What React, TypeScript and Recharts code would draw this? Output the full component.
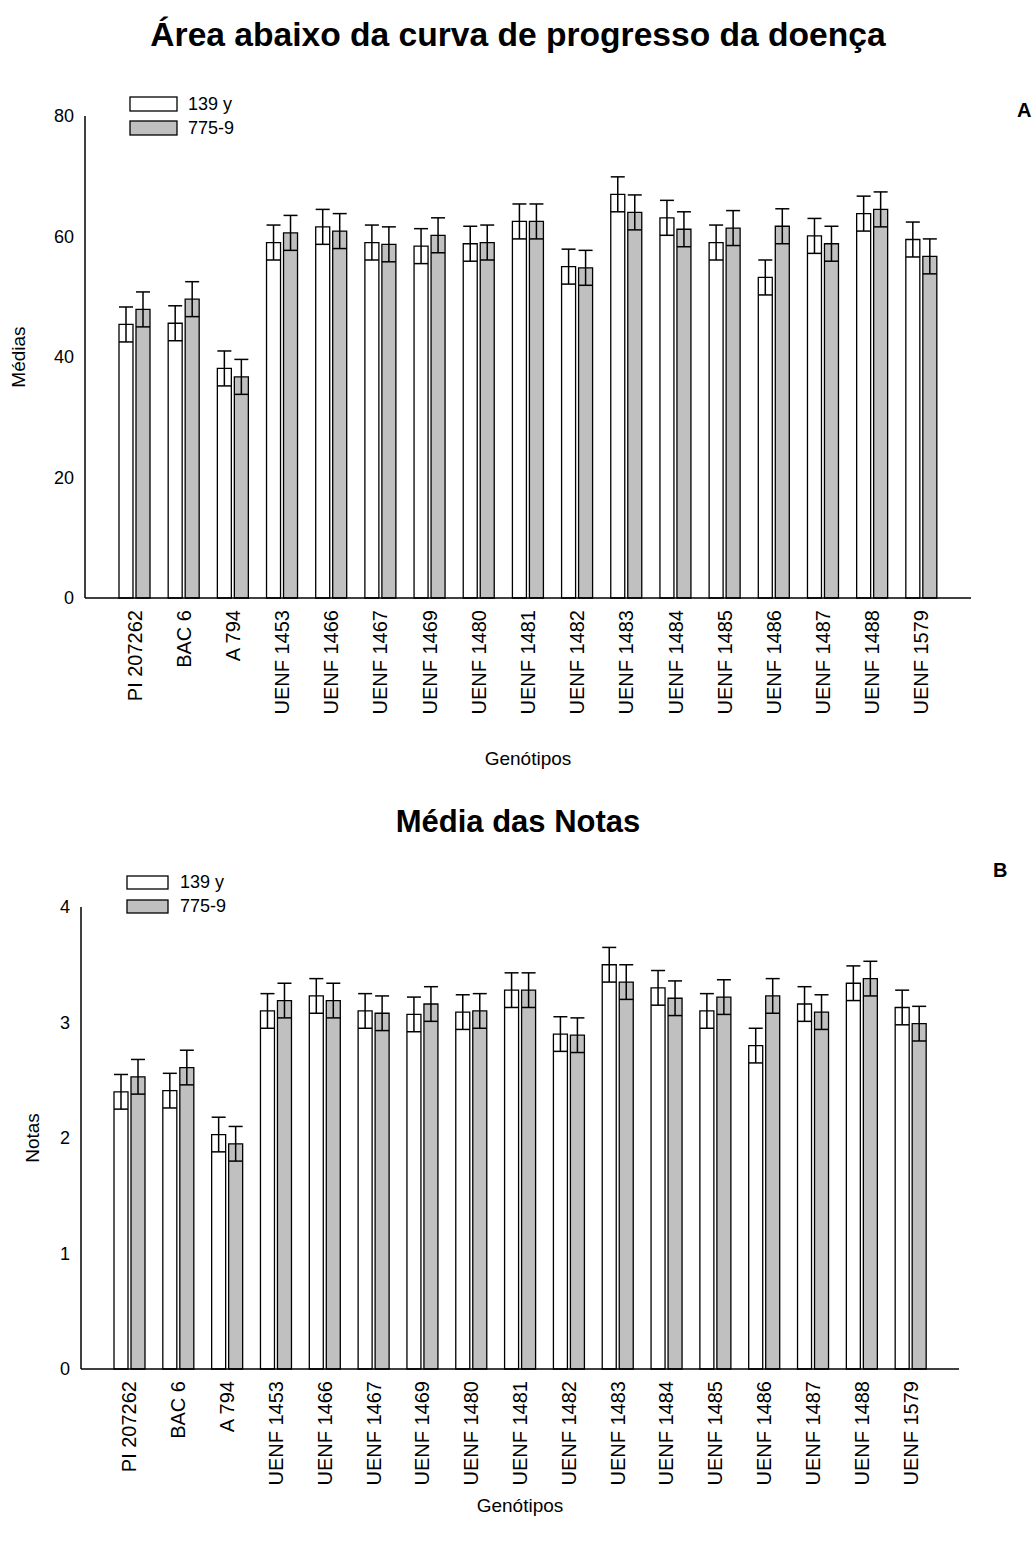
import React from 'react';
import { BarChart, Bar, XAxis, YAxis, ErrorBar, Legend, Label } from 'recharts';

// Genotypes evaluated against the two isolates
const genotypes = [
  'PI 207262', 'BAC 6', 'A 794', 'UENF 1453', 'UENF 1466', 'UENF 1467', 'UENF 1469',
  'UENF 1480', 'UENF 1481', 'UENF 1482', 'UENF 1483', 'UENF 1484', 'UENF 1485',
  'UENF 1486', 'UENF 1487', 'UENF 1488', 'UENF 1579',
];

// Panel A: area under the disease progress curve (means)
const audpc139 = [45.4, 45.6, 38.1, 59.0, 61.6, 59.0, 58.4, 58.8, 62.5, 55.0, 67.0, 63.1, 59.0, 53.2, 60.1, 63.8, 59.5];
const audpc775 = [47.9, 49.6, 36.7, 60.6, 60.9, 58.7, 60.2, 59.0, 62.5, 54.8, 64.0, 61.2, 61.4, 61.7, 58.8, 64.5, 56.7];
const audpcErr139 = [2.9, 2.9, 2.9, 2.9, 2.9, 2.9, 2.9, 2.9, 2.9, 2.9, 2.9, 2.9, 2.9, 2.9, 2.9, 2.9, 2.9];
const audpcErr775 = [2.9, 2.9, 2.9, 2.9, 2.9, 2.9, 2.9, 2.9, 2.9, 2.9, 2.9, 2.9, 2.9, 2.9, 2.9, 2.9, 2.9];
const audpcTicks = [0, 20, 40, 60, 80];

// Panel B: mean disease scores
const notas139 = [2.40, 2.41, 2.03, 3.10, 3.23, 3.10, 3.07, 3.09, 3.28, 2.90, 3.50, 3.30, 3.10, 2.80, 3.16, 3.34, 3.13];
const notas775 = [2.53, 2.61, 1.95, 3.19, 3.19, 3.08, 3.16, 3.10, 3.28, 2.89, 3.35, 3.21, 3.22, 3.23, 3.09, 3.38, 2.99];
const notasErr139 = [0.15, 0.15, 0.15, 0.15, 0.15, 0.15, 0.15, 0.15, 0.15, 0.15, 0.15, 0.15, 0.15, 0.15, 0.15, 0.15, 0.15];
const notasErr775 = [0.15, 0.15, 0.15, 0.15, 0.15, 0.15, 0.15, 0.15, 0.15, 0.15, 0.15, 0.15, 0.15, 0.15, 0.15, 0.15, 0.15];
const notasTicks = [0, 1, 2, 3, 4];

const seriesNames = ['139 y', '775-9'];

const FONT = '"Liberation Sans", Arial, sans-serif';

const buildRows = (a: number[], b: number[], ea: number[], eb: number[]) =>
  genotypes.map((g, i) => ({ genotype: g, s1: a[i], s2: b[i], e1: ea[i], e2: eb[i] }));

const audpcData = buildRows(audpc139, audpc775, audpcErr139, audpcErr775);
const notasData = buildRows(notas139, notas775, notasErr139, notasErr775);

const RotatedTick = (props: any) => {
  const { x, y, payload } = props;
  const ty = y + 4;
  return (
    <text
      x={x}
      y={ty}
      transform={`rotate(-90 ${x} ${ty})`}
      textAnchor="end"
      dominantBaseline="central"
      fontSize={20}
      fontFamily={FONT}
      fill="#000"
    >
      {payload.value}
    </text>
  );
};

const makeLegend = (swW: number, swH: number, gap: number) => (props: any) => {
  const items = props.payload || [];
  return (
    <div style={{ fontFamily: FONT, fontSize: 18, color: '#000' }}>
      {items.map((it: any) => (
        <div key={it.value} style={{ display: 'flex', alignItems: 'center', height: 24 }}>
          <svg width={swW + 2} height={swH + 2} style={{ display: 'block' }}>
            <rect x={1} y={1} width={swW} height={swH} fill={it.color} stroke="#000" strokeWidth={1.3} />
          </svg>
          <span style={{ marginLeft: gap, lineHeight: '24px' }}>{it.value}</span>
        </div>
      ))}
    </div>
  );
};

interface PanelProps {
  data: any[];
  top: number;
  height: number;
  plotTop: number;
  plotBottom: number;
  rightMargin: number;
  yWidth: number;
  domain: [number, number];
  ticks: number[];
  yTitle: string;
  yTitleDx: number;
  xTitleDy: number;
  xPad: number;
  legendPos: { left: number; top: number };
  swatch: [number, number, number];
  title: string;
  titleTop: number;
  titleSize: number;
  tag: string;
  tagPos: { left: number; top: number };
}

const Panel = (p: PanelProps) => {
  return (
    <div style={{ position: 'absolute', left: 0, top: p.top, width: 1036, height: p.height }}>
      <div
        style={{
          position: 'absolute', left: 0, top: p.titleTop, width: 1036, textAlign: 'center',
          fontFamily: FONT, fontWeight: 'bold', fontSize: p.titleSize, lineHeight: '34px', color: '#000',
        }}
      >
        {p.title}
      </div>
      <div
        style={{
          position: 'absolute', left: p.tagPos.left, top: p.tagPos.top,
          fontFamily: FONT, fontWeight: 'bold', fontSize: 20, lineHeight: '22px', color: '#000',
        }}
      >
        {p.tag}
      </div>
      <BarChart
        width={1036}
        height={p.height}
        data={p.data}
        margin={{ top: p.plotTop, right: p.rightMargin, left: 0, bottom: 0 }}
        barSize={14}
        barGap={3}
        style={{ fontFamily: FONT }}
      >
        <XAxis
          dataKey="genotype"
          interval={0}
          height={p.height - p.plotBottom}
          tickLine={false}
          axisLine={{ stroke: '#000', strokeWidth: 1.5 }}
          tick={<RotatedTick />}
          padding={{ left: p.xPad, right: p.xPad }}
        >
          <Label
            content={(lp: any) => {
              const vb = lp.viewBox || { x: 0, y: 0, width: 0 };
              return (
                <text
                  x={vb.x + vb.width / 2}
                  y={vb.y + p.xTitleDy}
                  textAnchor="middle"
                  dominantBaseline="central"
                  fontSize={19}
                  fontFamily={FONT}
                  fill="#000"
                >
                  Genótipos
                </text>
              );
            }}
          />
        </XAxis>
        <YAxis
          width={p.yWidth}
          domain={p.domain}
          ticks={p.ticks}
          tickLine={false}
          tickMargin={5}
          axisLine={{ stroke: '#000', strokeWidth: 1.5 }}
          tick={{ fill: '#000', fontSize: 18, fontFamily: FONT }}
        >
          <Label
            content={(lp: any) => {
              const vb = lp.viewBox || { x: 0, y: 0, height: 0 };
              const cx = vb.x + p.yTitleDx;
              const cy = vb.y + vb.height / 2;
              return (
                <text
                  x={cx}
                  y={cy}
                  transform={`rotate(-90 ${cx} ${cy})`}
                  textAnchor="middle"
                  dominantBaseline="central"
                  fontSize={19}
                  fontFamily={FONT}
                  fill="#000"
                >
                  {p.yTitle}
                </text>
              );
            }}
          />
        </YAxis>
        <Legend
          layout="horizontal"
          verticalAlign="middle"
          align="center"
          content={makeLegend(p.swatch[0], p.swatch[1], p.swatch[2])}
          wrapperStyle={{ left: p.legendPos.left, top: p.legendPos.top, width: 'auto' }}
        />
        <Bar dataKey="s1" name={seriesNames[0]} fill="#ffffff" stroke="#000" strokeWidth={1.3} isAnimationActive={false}>
          <ErrorBar dataKey="e1" width={7} stroke="#000" strokeWidth={1.5} direction="y" />
        </Bar>
        <Bar dataKey="s2" name={seriesNames[1]} fill="#c0c0c0" stroke="#000" strokeWidth={1.3} isAnimationActive={false}>
          <ErrorBar dataKey="e2" width={7} stroke="#000" strokeWidth={1.5} direction="y" />
        </Bar>
      </BarChart>
    </div>
  );
};

export default function App() {
  return (
    <div style={{ position: 'absolute', left: 0, top: 0, width: 1036, height: 1544, background: '#fff', fontFamily: FONT }}>
      <Panel
        data={audpcData}
        top={0}
        height={790}
        plotTop={116}
        plotBottom={598}
        rightMargin={65}
        yWidth={85}
        domain={[0, 80]}
        ticks={audpcTicks}
        yTitle="Médias"
        yTitleDx={18}
        xTitleDy={160}
        xPad={25}
        legendPos={{ left: 129, top: 92 }}
        swatch={[47, 14, 10]}
        title="Área abaixo da curva de progresso da doença"
        titleTop={18}
        titleSize={33.6}
        tag="A"
        tagPos={{ left: 1017, top: 99 }}
      />
      <Panel
        data={notasData}
        top={780}
        height={764}
        plotTop={127}
        plotBottom={589}
        rightMargin={77}
        yWidth={81}
        domain={[0, 4]}
        ticks={notasTicks}
        yTitle="Notas"
        yTitleDx={32}
        xTitleDy={136}
        xPad={24}
        legendPos={{ left: 126, top: 90 }}
        swatch={[41, 13, 11]}
        title="Média das Notas"
        titleTop={25}
        titleSize={31}
        tag="B"
        tagPos={{ left: 993, top: 79 }}
      />
    </div>
  );
}
